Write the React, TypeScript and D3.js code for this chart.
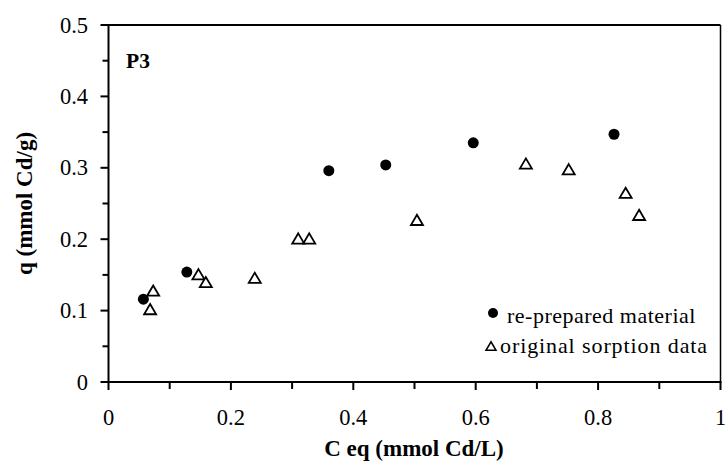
import React from "react";
import * as d3 from "d3";

const seriesNames = ["re-prepared material", "original sorption data"];
const preparedX = [0.057, 0.128, 0.36, 0.453, 0.596, 0.826];
const preparedY = [0.116, 0.154, 0.296, 0.304, 0.335, 0.347];
const originalX = [0.068, 0.073, 0.147, 0.159, 0.239, 0.31, 0.328, 0.504, 0.682, 0.752, 0.845, 0.867];
const originalY = [0.102, 0.128, 0.151, 0.14, 0.146, 0.201, 0.201, 0.227, 0.306, 0.298, 0.265, 0.234];
const xTicks = [0, 0.2, 0.4, 0.6, 0.8, 1];
const xTickLabels = ["0", "0.2", "0.4", "0.6", "0.8", "1"];
const yTicks = [0, 0.1, 0.2, 0.3, 0.4, 0.5];
const yTickLabels = ["0", "0.1", "0.2", "0.3", "0.4", "0.5"];
const xMinor = [0.1, 0.3, 0.5, 0.7, 0.9];
const yMinor = [0.05, 0.15, 0.25, 0.35, 0.45];

const W = 725;
const H = 465;
const L = 108.5, R = 720.5, T = 25, B = 382;
const FONT = "Liberation Serif";
const ts = { fontFamily: FONT };

function tri(cx: number, cy: number, w: number) {
  const h = w * 0.85;
  return `M${cx},${cy - h / 2}L${cx + w / 2},${cy + h / 2}L${cx - w / 2},${cy + h / 2}Z`;
}

export default function App() {
  const x = d3.scaleLinear().domain([0, 1]).range([L, R]);
  const y = d3.scaleLinear().domain([0, 0.5]).range([B, T]);
  return (
    <svg width={W} height={H} style={{ position: "absolute", left: 0, top: 0, background: "#fff" }}>
      <rect x={0} y={0} width={W} height={H} fill="#fff" />
      {/* frame */}
      <line x1={L} x2={R} y1={T} y2={T} stroke="#000" strokeWidth={2} />
      <line x1={R} x2={R} y1={T} y2={B} stroke="#000" strokeWidth={1.5} />
      <line x1={L} x2={L} y1={T - 1} y2={B + 1} stroke="#000" strokeWidth={2} />
      <line x1={L - 1} x2={R + 1} y1={B} y2={B} stroke="#000" strokeWidth={2} />
      {/* x ticks */}
      {xTicks.map((t, i) => (
        <g key={"xt" + i}>
          <line x1={x(t)} x2={x(t)} y1={B} y2={B + 8} stroke="#000" strokeWidth={2} />
          <text x={x(t)} y={B + 43} textAnchor="middle" fontSize={22.5} style={ts}>{xTickLabels[i]}</text>
        </g>
      ))}
      {xMinor.map((t, i) => (
        <line key={"xm" + i} x1={x(t)} x2={x(t)} y1={B} y2={B + 7} stroke="#000" strokeWidth={2} />
      ))}
      {yTicks.map((t, i) => (
        <g key={"yt" + i}>
          <line x1={L - 8} x2={L} y1={y(t)} y2={y(t)} stroke="#000" strokeWidth={2} />
          <text x={88} y={y(t) + 7.5} textAnchor="end" fontSize={22.5} style={ts}>{yTickLabels[i]}</text>
        </g>
      ))}
      {yMinor.map((t, i) => (
        <line key={"ym" + i} x1={L - 6} x2={L} y1={y(t)} y2={y(t)} stroke="#000" strokeWidth={2} />
      ))}
      {/* axis titles */}
      <text x={414} y={456} textAnchor="middle" fontSize={23} fontWeight="bold" style={ts}>C eq (mmol Cd/L)</text>
      <text transform={`translate(32,${(T + B) / 2}) rotate(-90)`} textAnchor="middle" fontSize={23} fontWeight="bold" style={ts}>q (mmol Cd/g)</text>
      <text x={126} y={68} fontSize={21.5} fontWeight="bold" style={ts}>P3</text>
      {/* data */}
      {originalX.map((v, i) => (
        <path key={"o" + i} d={tri(x(v), y(originalY[i]), 12)} fill="#fff" stroke="#000" strokeWidth={1.8} />
      ))}
      {preparedX.map((v, i) => (
        <circle key={"p" + i} cx={x(v)} cy={y(preparedY[i])} r={5.5} fill="#000" />
      ))}
      {/* legend */}
      <circle cx={493} cy={313} r={5} fill="#000" />
      <text x={507} y={322.5} fontSize={22} letterSpacing={0.5} style={ts}>{seriesNames[0]}</text>
      <path d={tri(491, 346, 10)} fill="#fff" stroke="#000" strokeWidth={1.5} />
      <text x={500} y={353} fontSize={22} letterSpacing={0.9} style={ts}>{seriesNames[1]}</text>
    </svg>
  );
}
